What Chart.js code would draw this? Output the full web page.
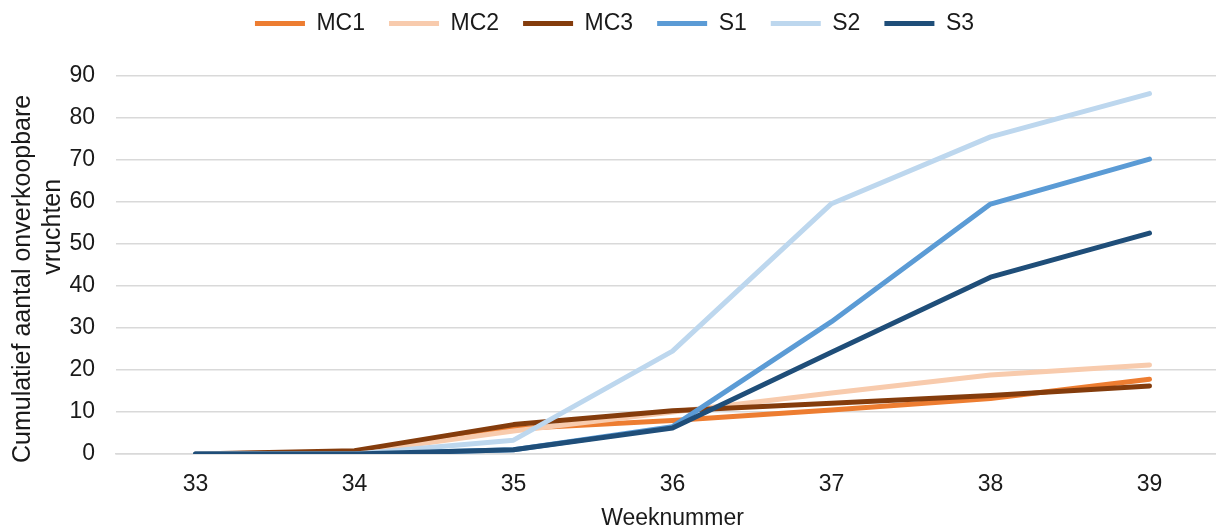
<!DOCTYPE html>
<html>
<head>
<meta charset="utf-8">
<script src="https://cdn.jsdelivr.net/npm/chart.js@4/dist/chart.umd.min.js"></script>
<style>
  html, body { margin: 0; padding: 0; background: #fff; overflow: hidden; }
  #wrap { width: 1232px; height: 529px; }
</style>
</head>
<body>
<div id="wrap"><canvas id="chart" width="1232" height="529"></canvas></div>
<script>
// week numbers on the x axis
const weeks = ["33", "34", "35", "36", "37", "38", "39"];

// cumulative unsellable fruits per treatment
const mc1 = [0, 0.5, 6, 8, 10.5, 13.2, 17.8];
const mc2 = [0, 0.3, 5.5, 10, 14.5, 18.8, 21.2];
const mc3 = [0, 0.8, 7, 10.3, 12.1, 13.9, 16.2];
const s1 = [0, 0, 1, 6.5, 31.5, 59.5, 70.2];
const s2 = [0, 0, 3.3, 24.5, 59.6, 75.5, 85.8];
const s3 = [0, 0, 1, 6.2, 24.2, 42.1, 52.6];

const seriesNames = ["MC1", "MC2", "MC3", "S1", "S2", "S3"];
const seriesData = [mc1, mc2, mc3, s1, s2, s3];
const seriesColors = ["#ED7D31", "#F8CBAD", "#843C0C", "#5B9BD5", "#BDD7EE", "#1F4E79"];

const font = "'Liberation Sans', Arial, sans-serif";
const textColor = "#1a1a1a";

const datasets = seriesNames.map((name, i) => ({
  label: name,
  data: seriesData[i],
  borderColor: seriesColors[i],
  backgroundColor: seriesColors[i],
  borderWidth: 5,
  borderCapStyle: "round",
  borderJoinStyle: "round",
  pointRadius: 0,
  tension: 0,
  fill: false,
  order: seriesNames.length - i, // later series on top, like Excel
}));

// make the legend box taller so the plot starts lower
const legendHeight = {
  id: "legendHeight",
  beforeInit(chart) {
    const fit = chart.legend.fit;
    chart.legend.fit = function () {
      fit.call(this);
      this.height = 88;
    };
  },
};

new Chart(document.getElementById("chart"), {
  type: "line",
  data: { labels: weeks, datasets },
  plugins: [legendHeight],
  options: {
    responsive: false,
    animation: false,
    layout: { padding: { top: -12, right: 3, left: 0, bottom: 0 } },
    plugins: {
      tooltip: { enabled: false },
      legend: {
        position: "top",
        align: "center",
        labels: {
          usePointStyle: true,
          pointStyle: "line",
          pointStyleWidth: 50,
          padding: 24,
          color: textColor,
          font: { family: font, size: 23 },
          sort: (a, b) => a.datasetIndex - b.datasetIndex,
        },
      },
    },
    scales: {
      x: {
        offset: true,
        grid: { display: false, drawTicks: false },
        border: { display: true, color: "#d9d9d9", width: 1.5 },
        ticks: { color: textColor, font: { family: font, size: 23 }, padding: 17 },
        title: {
          display: true,
          text: "Weeknummer",
          color: textColor,
          font: { family: font, size: 23, lineHeight: 0.9 },
          padding: { top: 0, bottom: 0 },
        },
        afterFit: (scale) => { scale.height = 75; },
      },
      y: {
        min: 0,
        max: 90,
        ticks: { stepSize: 10, color: textColor, font: { family: font, size: 23 }, padding: 21 },
        grid: { color: "#d9d9d9", lineWidth: 1.5, drawTicks: false },
        border: { display: false },
        title: {
          display: true,
          text: ["Cumulatief aantal onverkoopbare    ", "           vruchten"],
          color: textColor,
          font: { family: font, size: 25, lineHeight: 1.2 },
          padding: { top: 8, bottom: 0 },
        },
        afterFit: (scale) => { scale.width = 116; },
      },
    },
  },
});
</script>
</body>
</html>
